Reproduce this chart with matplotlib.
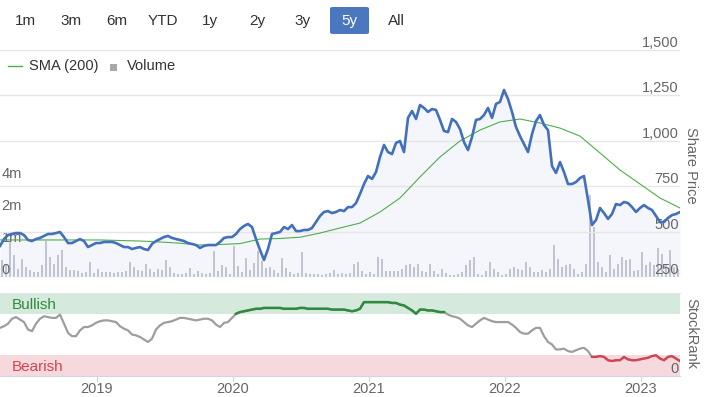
import numpy as np
import pandas as pd
import matplotlib
matplotlib.use("Agg")
import matplotlib.pyplot as plt
import matplotlib.dates as mdates
from matplotlib.lines import Line2D
from matplotlib.patches import Rectangle, FancyBboxPatch
from matplotlib.ticker import FuncFormatter

plt.rcParams['font.family'] = ['Liberation Sans', 'DejaVu Sans']

# range selector
buttons = ["1m", "3m", "6m", "YTD", "1y", "2y", "3y", "5y", "All"]
selected = "5y"

# share price, roughly every 11 days from mid April 2018
price = [421, 459, 481, 487, 492, 492, 481, 454, 448, 459,
         465, 476, 487, 487, 492, 498, 470, 437, 437, 448,
         459, 448, 415, 426, 437, 437, 443, 443, 443, 437,
         426, 415, 415, 404, 410, 415, 404, 399, 432, 448,
         459, 470, 476, 465, 459, 454, 448, 437, 432, 426,
         410, 421, 426, 426, 426, 443, 465, 470, 470, 487,
         514, 531, 542, 525, 459, 399, 344, 404, 487, 492,
         498, 525, 514, 536, 503, 503, 509, 509, 520, 553,
         586, 608, 613, 602, 608, 619, 613, 635, 635, 657,
         707, 762, 806, 790, 828, 911, 977, 938, 927, 988,
         999, 938, 1126, 1164, 1120, 1197, 1181, 1159, 1175, 1170,
         1115, 1054, 1048, 1120, 1104, 1065, 993, 949, 1021, 1115,
         1120, 1142, 1181, 1126, 1203, 1214, 1280, 1230, 1159, 1076,
         1026, 982, 938, 1037, 1109, 1142, 1087, 1059, 861, 823,
         883, 828, 762, 762, 773, 795, 806, 674, 536, 564,
         630, 602, 570, 597, 652, 646, 663, 657, 635, 608,
         630, 646, 630, 619, 586, 553, 553, 575, 591, 597,
         608]

# StockRank on the same dates
rank = [58, 60, 63, 69, 71, 68, 65, 56, 54, 63,
        69, 72, 71, 70, 70, 74, 63, 52, 48, 48,
        55, 59, 59, 61, 64, 66, 67, 67, 66, 65,
        60, 57, 55, 50, 49, 47, 44, 41, 45, 56,
        61, 64, 65, 66, 68, 70, 70, 69, 68, 67,
        68, 69, 69, 67, 62, 59, 64, 65, 70, 75,
        77, 78, 79, 80, 81, 81, 82, 82, 82, 82,
        82, 81, 81, 81, 81, 82, 82, 81, 81, 81,
        81, 81, 81, 80, 80, 80, 80, 79, 78, 79,
        81, 89, 89, 89, 89, 89, 89, 89, 88, 88,
        86, 85, 82, 79, 75, 80, 80, 79, 79, 78,
        77, 77, 74, 72, 71, 69, 65, 61, 59, 63,
        67, 70, 68, 66, 65, 65, 65, 65, 62, 58,
        53, 51, 51, 55, 58, 58, 48, 41, 38, 32,
        32, 33, 30, 29, 31, 33, 34, 30, 23, 23,
        24, 23, 19, 18, 19, 19, 23, 20, 19, 19,
        20, 21, 22, 24, 25, 21, 19, 23, 24, 21,
        18]

# 200 day moving average, coarser
sma = [454, 454, 454, 454, 454, 454, 451, 448, 443, 436,
       426, 429, 434, 459, 462, 469, 492, 520, 547, 608,
       685, 801, 911, 999, 1059, 1104, 1120, 1098, 1070, 1026,
       933, 839, 762, 685, 630]

# volume in thousands
volume_k = [530, 375, 1100, 690, 250, 560, 310, 220, 155, 155,
            375, 1100, 625, 405, 690, 845, 310, 220, 220, 190,
            125, 155, 470, 125, 250, 155, 155, 155, 125, 155,
            155, 190, 470, 310, 220, 190, 405, 250, 155, 250,
            220, 530, 310, 125, 95, 95, 125, 280, 95, 190,
            125, 95, 125, 810, 190, 375, 310, 95, 970, 345,
            155, 595, 220, 440, 810, 500, 280, 310, 220, 125,
            595, 280, 155, 95, 125, 780, 125, 95, 95, 95,
            60, 95, 125, 220, 95, 125, 95, 125, 405, 470,
            190, 95, 155, 95, 625, 560, 190, 190, 190, 190,
            250, 375, 405, 310, 405, 190, 155, 405, 190, 95,
            250, 125, 60, 60, 95, 155, 375, 530, 625, 95,
            60, 190, 470, 250, 155, 60, 95, 250, 310, 250,
            220, 470, 310, 155, 155, 220, 155, 250, 1000, 560,
            310, 375, 405, 250, 95, 155, 405, 2950, 1480, 470,
            310, 155, 690, 250, 405, 625, 530, 560, 190, 220,
            780, 375, 470, 375, 905, 720, 405, 845, 310, 250]

start, end = pd.Timestamp("2018-04-16"), pd.Timestamp("2023-04-16")
price_dates = pd.date_range(start, end, periods=len(price))
sma_dates = pd.date_range(start, end, periods=len(sma))
vol_dates = pd.date_range("2018-04-21", "2023-04-11", periods=len(volume_k))
vol_m = np.array(volume_k) / 1000.0
rank = np.array(rank, dtype=float)

blue = '#4270bd'
green_sma = '#4daf4a'
grey_txt = '#666666'

W, H = 704, 397
def fx(px):
    return px / W
def fy(py):
    return 1 - py / H

# volume axis: linear to 1m then log2
def vfwd(v):
    v = np.asarray(v, dtype=float)
    return np.where(v < 1, v, 1 + np.log2(np.maximum(v, 1)))
def vinv(u):
    u = np.asarray(u, dtype=float)
    return np.where(u < 1, u, 2 ** (u - 1))

fig = plt.figure(figsize=(7.04, 3.97), dpi=100)

ax_v = fig.add_axes([0, fy(277), fx(680), (277 - 50) / H])
ax_p = ax_v.twinx()
ax_p.patch.set_visible(False)

ax_v.bar(vol_dates, vol_m, width=6.5, color='#c9cad1', lw=0)
ax_v.set_yscale('function', functions=(vfwd, vinv))
ax_v.set_ylim(0, 68)
ax_v.set_yticks([0, 1, 2, 4])
ax_v.set_yticklabels(['0', '1m', '2m', '4m'])
ax_v.tick_params(axis='y', length=0, pad=-1, labelsize=10.5, labelcolor=grey_txt)
for t in ax_v.get_yticklabels():
    t.set_ha('left')
    t.set_va('bottom')
ax_v.tick_params(axis='x', bottom=False, labelbottom=False)

ax_p.fill_between(price_dates, price, 250, color='#4472c4', alpha=0.06, lw=0)
ax_p.plot(sma_dates, sma, color=green_sma, lw=0.8)
ax_p.plot(price_dates, price, color=blue, lw=1.9, solid_joinstyle='round')
ax_p.set_ylim(250, 1500)
ax_p.set_yticks([250, 500, 750, 1000, 1250, 1500])
ax_p.yaxis.set_major_formatter(FuncFormatter(lambda v, p: f'{v:,.0f}'))
ax_p.tick_params(axis='y', length=0, pad=-1, labelsize=10.5, labelcolor=grey_txt)
for t in ax_p.get_yticklabels():
    t.set_ha('right')
    t.set_va('bottom')
ax_p.grid(axis='y', color='#e6e6e6', lw=1)
ax_p.tick_params(axis='x', bottom=False, labelbottom=False)
ax_v.set_xlim(start, end)

for a in (ax_v, ax_p):
    for s in a.spines.values():
        s.set_visible(False)

# StockRank panel
ax_r = fig.add_axes([0, fy(376), fx(680), (376 - 293) / H])
ax_r.axhspan(75, 100, color='#d5e9dc', lw=0)
ax_r.axhspan(0, 25, color='#f6d9dc', lw=0)
ax_r.plot(price_dates, rank, color='#9e9e9e', lw=1.6)
ax_r.plot(price_dates, np.where(rank >= 75, rank, np.nan), color='#2e8b3e', lw=1.8)
ax_r.plot(price_dates, np.where(rank <= 25, rank, np.nan), color='#d9404e', lw=1.6)
ax_r.set_xlim(start, end)
ax_r.set_ylim(0, 100)
ax_r.yaxis.tick_right()
ax_r.set_yticks([0])
ax_r.tick_params(axis='y', length=0, pad=-1, labelsize=10.5, labelcolor=grey_txt)
for t in ax_r.get_yticklabels():
    t.set_ha('right')
    t.set_va('bottom')
ax_r.xaxis.set_major_locator(mdates.YearLocator())
ax_r.xaxis.set_major_formatter(mdates.DateFormatter('%Y'))
ax_r.tick_params(axis='x', length=4, color='#ccd6eb', labelsize=10.5,
                 labelcolor=grey_txt, pad=0.5)
for k, s in ax_r.spines.items():
    s.set_visible(k in ('bottom', 'top'))
ax_r.spines['bottom'].set_color('#ccd6eb')
ax_r.spines['top'].set_color('#e6e6e6')
ax_r.text(0.018, 0.855, 'Bullish', transform=ax_r.transAxes, va='center',
          fontsize=11, color='#2e8b3e')
ax_r.text(0.018, 0.105, 'Bearish', transform=ax_r.transAxes, va='center',
          fontsize=11, color='#d9434f')

fig.text(fx(691), fy(165), 'Share Price', rotation=270, ha='center', va='center',
         fontsize=10.5, color=grey_txt)
fig.text(fx(691), fy(334), 'StockRank', rotation=270, ha='center', va='center',
         fontsize=10.5, color=grey_txt)

# buttons
btn_x = [25, 71, 117, 163, 210, 257, 303, 349, 396]
for lab, bx in zip(buttons, btn_x):
    col = '#333333'
    if lab == selected:
        fig.add_artist(FancyBboxPatch((fx(bx - 19), fy(34)), fx(39), 27 / H,
                                      boxstyle='round,pad=0,rounding_size=0.004',
                                      transform=fig.transFigure, color='#4a77be', lw=0))
        col = 'white'
    fig.text(fx(bx), fy(21), lab, ha='center', va='center', fontsize=11, color=col)

# legend
fig.add_artist(Line2D([fx(8), fx(22)], [fy(66), fy(66)], color=green_sma, lw=1,
                      transform=fig.transFigure))
fig.text(fx(29), fy(66), 'SMA (200)', va='center', fontsize=10.5, color='#333333')
fig.add_artist(Rectangle((fx(110), fy(71)), fx(7), 7 / H, color='#a6a8ae', lw=0,
                         transform=fig.transFigure))
fig.text(fx(127), fy(66), 'Volume', va='center', fontsize=10.5, color='#333333')

fig.savefig('out.png', dpi=100)
